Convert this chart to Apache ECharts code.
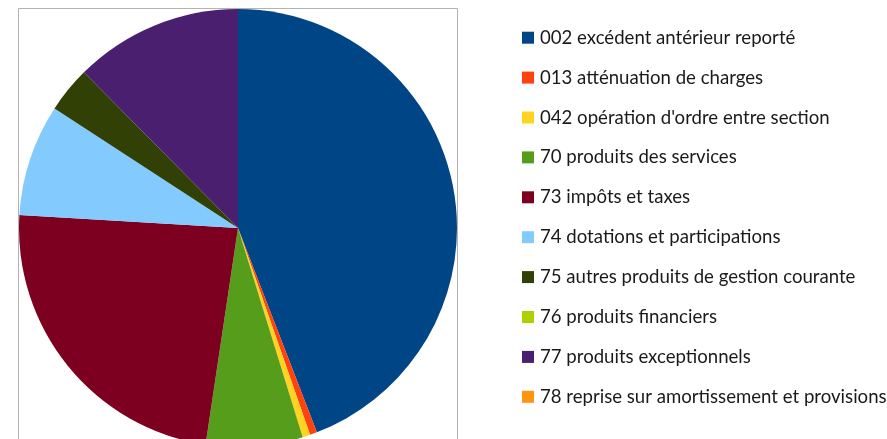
<!DOCTYPE html>
<html>
<head>
<meta charset="utf-8">
<script src="https://cdn.jsdelivr.net/npm/echarts@6/dist/echarts.min.js"></script>
<style>html,body{margin:0;padding:0;background:#fff;}#c{width:887px;height:439px;}</style>
</head>
<body>
<div id="c"></div>
<script>
const categories = [
  "002 excédent antérieur reporté",
  "013 atténuation de charges",
  "042 opération d'ordre entre section",
  "70 produits des services",
  "73 impôts et taxes",
  "74 dotations et participations",
  "75 autres produits de gestion courante",
  "76 produits financiers",
  "77 produits exceptionnels",
  "78 reprise sur amortissement et provisions"
];
const values = [44.14, 0.53, 0.56, 7.14, 23.58, 8.25, 3.39, 0, 12.42, 0];
const colors = ["#004586", "#ff420e", "#ffd320", "#579d1c", "#7e0021", "#83caff", "#314004", "#aecf00", "#4b1f6f", "#ff950e"];

const chart = echarts.init(document.getElementById('c'), null, {renderer: 'canvas'});
chart.setOption({
  animation: false,
  color: colors,
  graphic: [{
    type: 'rect',
    shape: {x: 18.5, y: 8.5, width: 439, height: 500},
    style: {fill: 'none', stroke: '#b3b3b3', lineWidth: 1},
    z: 0
  }],
  legend: {
    orient: 'vertical',
    left: 517,
    top: 23.2,
    padding: 5,
    itemWidth: 12,
    itemHeight: 12,
    itemGap: 20.9,
    icon: 'rect',
    textStyle: {fontFamily: 'Lato', fontSize: 18.6, color: '#1a1a1a', lineHeight: 19, padding: [0, 0, 0, 1]},
    data: categories
  },
  series: [{
    type: 'pie',
    center: [238, 228],
    radius: 219,
    startAngle: 90,
    clockwise: true,
    label: {show: false},
    labelLine: {show: false},
    itemStyle: {borderWidth: 0},
    emphasis: {disabled: true},
    z: 2,
    data: categories.map((n, i) => ({name: n, value: values[i]}))
  }]
});
</script>
</body>
</html>
